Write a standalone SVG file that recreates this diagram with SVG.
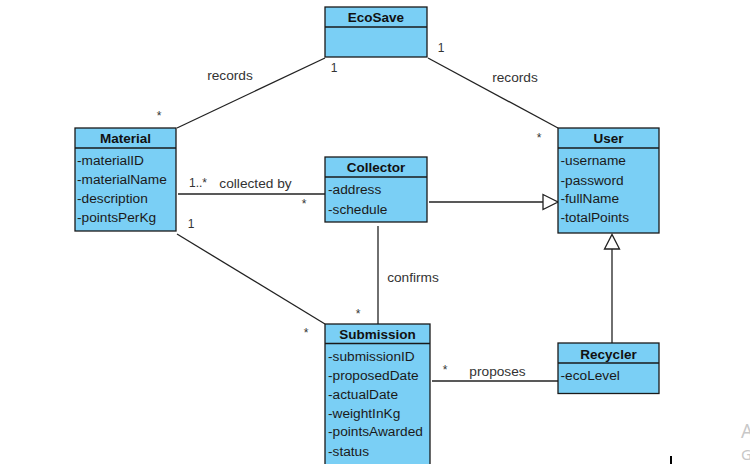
<svg xmlns="http://www.w3.org/2000/svg" width="750" height="464" viewBox="0 0 750 464">
<style>
  .box { fill: #7ACFF5; stroke: #1a1a1a; stroke-width: 1.3; }
  .div { stroke: #1a1a1a; stroke-width: 1.3; }
  .title { font-family: "Liberation Sans", Arial, sans-serif; font-size: 13.5px; font-weight: bold; fill: #111; text-anchor: middle; }
  .attr { font-family: "Liberation Sans", Arial, sans-serif; font-size: 13.7px; fill: #1a1a1a; }
  .lbl { font-family: "Liberation Sans", Arial, sans-serif; font-size: 13.7px; fill: #333; text-anchor: middle; }
  .mult { font-family: "Liberation Sans", Arial, sans-serif; font-size: 12px; fill: #333; text-anchor: middle; }
  .conn line { stroke: #222; stroke-width: 1.3; fill: none; }
  .tri { fill: #fff; stroke: #222; stroke-width: 1.3; }
</style>
<rect width="750" height="464" fill="#fff"/>

<g id="connectors" class="conn">
  <line x1="177" y1="128" x2="325" y2="58"/>
  <line x1="428" y1="58" x2="558" y2="128"/>
  <line x1="178" y1="194" x2="325" y2="194"/>
  <line x1="429" y1="202" x2="543" y2="202"/>
  <polygon class="tri" points="543,194.5 558,202 543,209.5"/>
  <line x1="177" y1="234" x2="325" y2="324"/>
  <line x1="378" y1="226" x2="378" y2="324"/>
  <line x1="432" y1="381" x2="558" y2="381"/>
  <line x1="612" y1="249" x2="612" y2="343"/>
  <polygon class="tri" points="604.5,249 612,234.5 619.5,249"/>
</g>

<g id="labels">
  <text class="lbl" x="230" y="80">records</text>
  <text class="lbl" x="515" y="82">records</text>
  <text class="mult" x="334" y="72">1</text>
  <text class="mult" x="159" y="120">*</text>
  <text class="mult" x="441" y="52">1</text>
  <text class="mult" x="539" y="142">*</text>
  <text class="mult" x="198" y="187">1..*</text>
  <text class="lbl" x="255.5" y="188">collected by</text>
  <text class="mult" x="304" y="208">*</text>
  <text class="mult" x="191" y="228">1</text>
  <text class="lbl" x="413" y="282">confirms</text>
  <text class="mult" x="358" y="318">*</text>
  <text class="mult" x="306" y="337">*</text>
  <text class="mult" x="445" y="374">*</text>
  <text class="lbl" x="497.5" y="376">proposes</text>
</g>

<g id="EcoSave">
  <rect class="box" x="325" y="7" width="102" height="50"/>
  <line class="div" x1="325" y1="27" x2="427" y2="27"/>
  <text class="title" x="376" y="22">EcoSave</text>
</g>

<g id="Material">
  <rect class="box" x="75" y="128" width="101" height="103"/>
  <line class="div" x1="75" y1="148" x2="176" y2="148"/>
  <text class="title" x="125.5" y="143">Material</text>
  <text class="attr" x="77" y="165">-materialID</text>
  <text class="attr" x="77" y="184">-materialName</text>
  <text class="attr" x="77" y="203">-description</text>
  <text class="attr" x="77" y="222">-pointsPerKg</text>
</g>

<g id="Collector">
  <rect class="box" x="325" y="157" width="102" height="65"/>
  <line class="div" x1="325" y1="177" x2="427" y2="177"/>
  <text class="title" x="376" y="172">Collector</text>
  <text class="attr" x="328" y="194">-address</text>
  <text class="attr" x="328" y="213.5">-schedule</text>
</g>

<g id="User">
  <rect class="box" x="558" y="128" width="101" height="105"/>
  <line class="div" x1="558" y1="148" x2="659" y2="148"/>
  <text class="title" x="608.5" y="143">User</text>
  <text class="attr" x="560.5" y="165">-username</text>
  <text class="attr" x="560.5" y="184.5">-password</text>
  <text class="attr" x="560.5" y="203">-fullName</text>
  <text class="attr" x="560.5" y="222">-totalPoints</text>
</g>

<g id="Submission">
  <rect class="box" x="325" y="324" width="105" height="150"/>
  <line class="div" x1="325" y1="343.5" x2="430" y2="343.5"/>
  <text class="title" x="377.5" y="339">Submission</text>
  <text class="attr" x="328" y="361">-submissionID</text>
  <text class="attr" x="328" y="380">-proposedDate</text>
  <text class="attr" x="328" y="398.7">-actualDate</text>
  <text class="attr" x="328" y="417.7">-weightInKg</text>
  <text class="attr" x="328" y="436">-pointsAwarded</text>
  <text class="attr" x="328" y="455.7">-status</text>
</g>

<g id="Recycler">
  <rect class="box" x="558" y="343" width="101" height="50.5"/>
  <line class="div" x1="558" y1="363" x2="659" y2="363"/>
  <text class="title" x="608.5" y="358.5">Recycler</text>
  <text class="attr" x="560.5" y="380">-ecoLevel</text>
</g>

<line x1="671" y1="456" x2="671" y2="464" stroke="#000" stroke-width="2"/>
<text x="741" y="438" font-family="'Segoe UI', 'Noto Sans', sans-serif" font-size="19" fill="#c8c8c8">A</text>
<text x="741" y="460" font-family="'Segoe UI', 'Noto Sans', sans-serif" font-size="15" fill="#c8c8c8">G</text>
</svg>
